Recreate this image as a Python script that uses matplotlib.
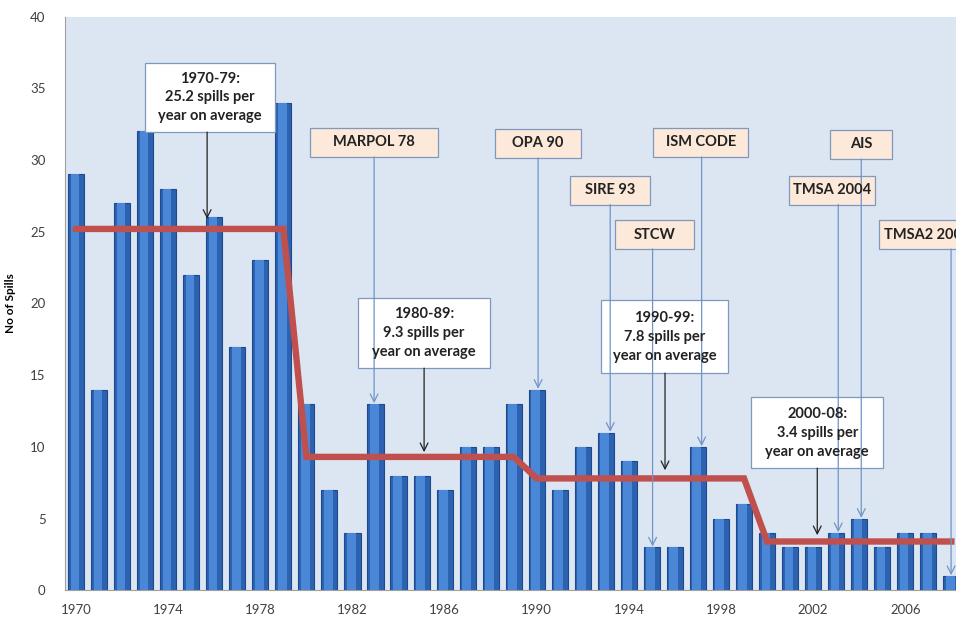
import numpy as np
import matplotlib.pyplot as plt
from matplotlib.patches import Rectangle

plt.rcParams['font.family'] = ['Lato', 'DejaVu Sans']

# number of spills per year
years = np.arange(1970, 2009)
spills = [29, 14, 27, 32, 28, 22, 26, 17, 23, 34,
          13, 7, 4, 13, 8, 8, 7, 10, 10, 13,
          14, 7, 10, 11, 9, 3, 3, 10, 5, 6,
          4, 3, 3, 4, 5, 3, 4, 4, 1]

# decade averages
decade_starts = [1970, 1980, 1990, 2000]
decade_ends = [1979, 1989, 1999, 2008]
decade_avg = [25.2, 9.3, 7.8, 3.4]
decade_text = ['1970-79:\n25.2 spills per\nyear on average',
               '1980-89:\n9.3 spills per\nyear on average',
               '1990-99:\n7.8 spills per\nyear on average',
               '2000-08:\n3.4 spills per\nyear on average']

# regulations
reg_names = ['MARPOL 78', 'OPA 90', 'SIRE 93', 'STCW', 'ISM CODE',
             'TMSA 2004', 'AIS', 'TMSA2 2008']
reg_years = [1983, 1990, 1993, 1995, 1997, 2003, 2004, 2008]

avg_line = np.zeros(len(years))
for s, e, a in zip(decade_starts, decade_ends, decade_avg):
    avg_line[(years >= s) & (years <= e)] = a

fig = plt.figure(figsize=(9.56, 6.2), dpi=100)
ax = fig.add_axes([0.068, 0.048, 0.95, 0.925])
ax.set_facecolor('#dce6f2')

ax.bar(years, spills, width=0.7, color='#2c62b0', edgecolor='#1d4a8c', linewidth=0.8, zorder=2)
ax.bar(years - 0.05, spills, width=0.38, color='#4a87d6', linewidth=0, zorder=2)
ax.plot(years, avg_line, color='#c0504d', linewidth=4.6, zorder=3, solid_joinstyle='miter')

ax.set_xlim(1969.52, 2008.95)
ax.set_ylim(0, 40)
ax.set_xticks(years[::4])
ax.set_yticks(range(0, 41, 5))
ax.tick_params(length=0, labelsize=9.5, colors='#404040')
ax.tick_params(axis='x', pad=10)
ax.tick_params(axis='y', pad=14)
for side in ['top', 'right']:
    ax.spines[side].set_visible(False)
for side in ['left', 'bottom']:
    ax.spines[side].set_color('#a0a0a0')
ax.set_ylabel('No of Spills', fontsize=8.5, fontweight='bold', labelpad=10)


def box(cx, cy, w, h, text, fc, arrow_x, tip, arrow_color):
    ax.add_patch(Rectangle((cx - w / 2, cy - h / 2), w, h, fc=fc, ec='#7f98bd', lw=0.9,
                           zorder=4, clip_on=False))
    ax.text(cx, cy, text, ha='center', va='center', fontsize=10.5, fontweight='bold',
            color='#222222', linespacing=1.45, zorder=5, clip_on=False)
    ax.annotate('', xy=(arrow_x, tip), xytext=(arrow_x, cy - h / 2),
                arrowprops=dict(arrowstyle='->', color=arrow_color, lw=0.9, shrinkA=0,
                                shrinkB=0, mutation_scale=14),
                zorder=4, annotation_clip=False)


# average boxes: centre x, centre y, width, height, arrow x, arrow tip
avg_pos = [(1975.82, 34.37, 5.64, 4.82, 1975.69, 25.9),
           (1985.11, 17.93, 5.73, 4.88, 1985.11, 9.63),
           (1995.55, 17.69, 5.51, 5.09, 1995.57, 8.37),
           (2002.18, 10.99, 5.73, 4.95, 2002.18, 3.84)]
for txt, (cx, cy, w, h, axx, tip) in zip(decade_text, avg_pos):
    box(cx, cy, w, h, txt, 'white', axx, tip, '#222222')

# regulation boxes: centre x, centre y, width, arrow x
reg_pos = [(1982.94, 31.23, 5.56, 1982.94), (1990.06, 31.16, 3.73, 1990.06),
           (1993.19, 27.91, 3.47, 1993.19), (1995.12, 24.81, 3.43, 1995.03),
           (1997.12, 31.23, 4.13, 1997.16), (2002.83, 27.91, 3.73, 2003.09),
           (2004.09, 31.09, 2.69, 2004.09), (2006.95, 24.81, 4.17, 2007.99)]
for name, yr, (cx, cy, w, axx) in zip(reg_names, reg_years, reg_pos):
    box(cx, cy, w, 2.02, name, '#fde9d9', axx, spills[yr - 1970] + 0.05, '#6f95c8')

plt.savefig('out.png', dpi=100)
